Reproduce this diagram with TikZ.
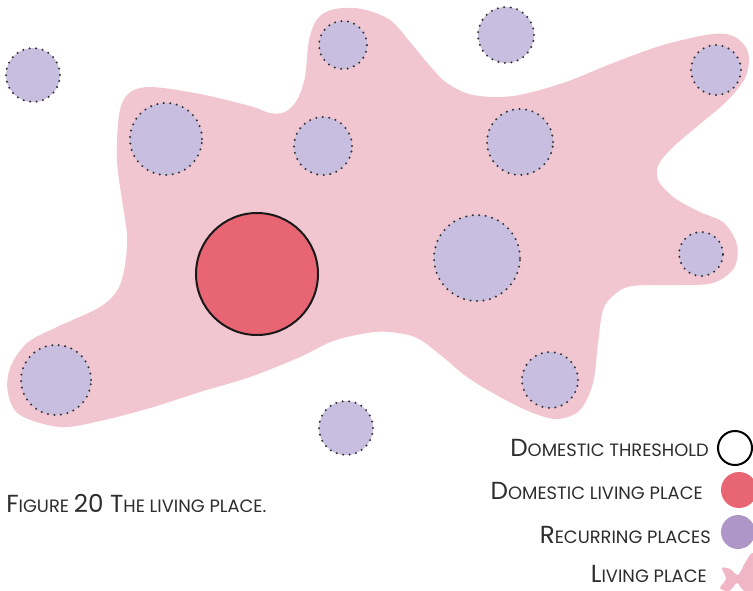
\documentclass[tikz,border=0pt]{standalone}
\usepackage{fontspec}
\setmainfont{Poppins}
\definecolor{blobc}{RGB}{242,198,208}
\definecolor{lav}{RGB}{200,190,223}
\definecolor{redc}{RGB}{232,101,116}
\definecolor{leglav}{RGB}{174,150,200}
\definecolor{legpink}{RGB}{240,182,198}
\definecolor{txt}{RGB}{45,45,45}
\newcommand\bigf{\fontsize{18.5}{18}\selectfont}
\newcommand\smallf{\fontsize{13.4}{13}\selectfont}
\tikzset{
  rec/.style={circle, inner sep=0pt, fill=lav, draw=black!80, line width=1.7pt,
    dash pattern=on 0pt off 4.9pt, line cap=round, minimum size=#1*1.5pt},
  dom/.style={circle, inner sep=0pt, fill=redc, draw=black!90, line width=1.5pt, minimum size=#1*1.5pt},
  legtext/.style={anchor=base east, inner sep=0pt, text=txt},
}
\begin{document}
\begin{tikzpicture}[x=0.75pt,y=-0.75pt]
\useasboundingbox (0,0) rectangle (753,590);
\clip (0,0) rectangle (753,590);
% living place blob
\fill[blobc] plot[smooth cycle, tension=0.55] coordinates {
 (60,427) (100,421) (150,408) (200,392) (250,377) (300,357) (333,341) (367,333)
 (390,332) (417,338) (443,357) (467,377) (500,397) (533,413) (558,419) (580,410)
 (593,383) (598,343) (603,310) (614,295) (632,286) (680,285) (713,283) (734,268)
 (737,245) (724,223) (700,212) (676,199) (659,182) (658,166) (672,148) (700,124)
 (728,100) (746,76) (748,52) (735,37) (713,34) (663,45) (613,63) (563,83)
 (513,96) (473,95) (447,83) (430,66) (410,42) (390,20) (362,9) (335,9)
 (318,18) (309,40) (305,77) (297,100) (285,112) (270,113) (250,106) (200,94)
 (150,87) (128,94) (119,115) (117,160) (122,200) (127,235) (125,265) (118,289)
 (100,307) (57,327) (27,343) (10,368) (8,393) (20,415)};
% recurring places
\node[rec=27] (r1) at (33,75) {};
\node[rec=24] (r2) at (343,45) {};
\node[rec=36] (r3) at (166,139) {};
\node[rec=29] (r4) at (323,146) {};
\node[rec=28] (r5) at (506,35) {};
\node[rec=25] (r6) at (716,70) {};
\node[rec=33] (r7) at (520,142) {};
\node[rec=43] (r8) at (477,258) {};
\node[rec=22] (r9) at (701,254) {};
\node[rec=28] (r10) at (550,380) {};
\node[rec=27] (r11) at (346,428) {};
\node[rec=35] (r12) at (56,380) {};
% domestic living place
\node[dom=61] (d) at (257,274) {};
% legend
\node[legtext] (t1) at (709,456) {\bigf D\smallf OMESTIC THRESHOLD};
\node[circle, inner sep=0pt, draw=black, line width=1.5pt, minimum size=17*1.5pt] (l1) at (735,448) {};
\node[legtext] (t2) at (703,499) {\bigf D\smallf OMESTIC LIVING PLACE};
\node[circle, inner sep=0pt, fill=redc, minimum size=18*1.5pt] (l2) at (739,490) {};
\node[legtext] (t3) at (711,543) {\bigf R\smallf ECURRING PLACES};
\node[circle, inner sep=0pt, fill=leglav, minimum size=17*1.5pt] (l3) at (738,532) {};
\node[legtext] (t4) at (707,582) {\bigf L\smallf IVING PLACE};
\fill[legpink] plot[smooth cycle, tension=0.5] coordinates {
 (722,568) (730,569) (738,575) (745,563) (753,553) (758,575) (753,595) (742,589)
 (737,583) (729,591) (720,588) (726,579)};
% caption
\node[anchor=base west, inner sep=0pt, text=txt] (cap) at (6,512) {\bigf F\smallf IGURE \bigf 20 T\smallf HE LIVING PLACE.};
\end{tikzpicture}
\end{document}
